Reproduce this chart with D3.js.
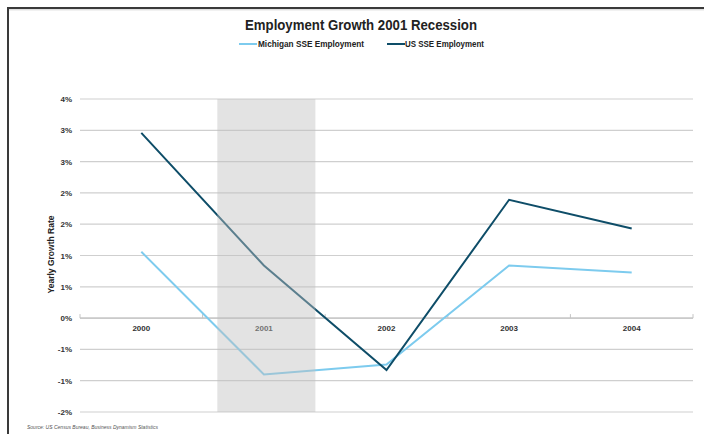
<!DOCTYPE html>
<html>
<head>
<meta charset="utf-8">
<script src="https://cdn.jsdelivr.net/npm/d3@7"></script>
<style>
  html, body { margin: 0; padding: 0; background: #fff; }
  svg { display: block; font-family: "Liberation Sans", Arial, sans-serif; }
</style>
</head>
<body>
<svg id="chart" width="704" height="434"></svg>
<script>
// Yearly growth rate of employment, percent
const years = ["2000", "2001", "2002", "2003", "2004"];
const michigan = [1.06, -0.90, -0.74, 0.84, 0.73];
const us = [2.96, 0.84, -0.83, 1.89, 1.43];
const yTicks = [-1.5, -1.0, -0.5, 0, 0.5, 1.0, 1.5, 2.0, 2.5, 3.0, 3.5];
const recessionYear = "2001";

const seriesList = [
  { name: "Michigan SSE Employment", values: michigan, color: "#7dcbee" },
  { name: "US SSE Employment", values: us, color: "#0e4d68" }
];

const svg = d3.select("#chart");
const W = 704, H = 434;
const m = { left: 80, right: 11, top: 99, bottom: 22 };

// frame
svg.append("path")
  .attr("d", `M8,${H} L8,8 L${W},8`)
  .attr("fill", "none").attr("stroke", "#3a3a3a").attr("stroke-width", 2);
svg.append("line").attr("x1", 9).attr("x2", W).attr("y1", 9.8).attr("y2", 9.8)
  .attr("stroke", "#c8c8c8").attr("stroke-width", 0.8);

const x = d3.scaleBand().domain(years).range([m.left, W - m.right]);
const y = d3.scaleLinear().domain([-1.5, 3.5]).range([H - m.bottom, m.top]);

// gridlines
svg.append("g").selectAll("line").data(yTicks).join("line")
  .attr("x1", m.left).attr("x2", W - m.right)
  .attr("y1", d => y(d)).attr("y2", d => y(d))
  .attr("stroke", "#cfcfcf").attr("stroke-width", 1.2);

// y axis labels (rounded to whole percent)
const yAxis = d3.axisLeft(y).tickValues(yTicks)
  .tickFormat(d => d3.format(".0%")(d / 100).replace("−", "-"))
  .tickSize(0).tickPadding(8);
const gy = svg.append("g").attr("transform", `translate(${m.left},0)`).call(yAxis);
gy.select(".domain").remove();
gy.selectAll("text").attr("font-size", 8).attr("font-weight", "bold").attr("fill", "#333")
  .attr("font-family", "Liberation Sans, Arial, sans-serif");

// zero axis with category ticks
const gx = svg.append("g").attr("transform", `translate(0,${y(0)})`);
gx.append("line").attr("x1", m.left).attr("x2", W - m.right)
  .attr("stroke", "#c4c4c4").attr("stroke-width", 1.2);
gx.selectAll("line.tk").data(d3.range(years.length + 1)).join("line").attr("class", "tk")
  .attr("x1", i => m.left + i * x.step()).attr("x2", i => m.left + i * x.step())
  .attr("y1", 0).attr("y2", -4).attr("stroke", "#c4c4c4");
gx.selectAll("text").data(years).join("text")
  .attr("x", d => x(d) + x.bandwidth() / 2).attr("y", 13)
  .attr("text-anchor", "middle").attr("font-size", 8).attr("font-weight", "bold")
  .attr("fill", "#333").text(d => d);

// lines
const line = d3.line()
  .x((d, i) => x(years[i]) + x.bandwidth() / 2)
  .y(d => y(d));
svg.append("g").selectAll("path").data(seriesList).join("path")
  .attr("d", s => line(s.values))
  .attr("fill", "none").attr("stroke", s => s.color)
  .attr("stroke-width", 2).attr("stroke-linejoin", "miter");

// recession shading, laid over the lines
const shadeX0 = x(recessionYear) + x.bandwidth() * 0.12;
const shadeX1 = x(recessionYear) + x.bandwidth() * 0.92;
svg.append("rect")
  .attr("x", shadeX0).attr("width", shadeX1 - shadeX0)
  .attr("y", y(3.5)).attr("height", y(-1.5) - y(3.5))
  .attr("fill", "#bfbfbf").attr("opacity", 0.44);

// title
svg.append("text").attr("x", 361).attr("y", 30).attr("text-anchor", "middle")
  .attr("font-size", 15).attr("font-weight", "bold").attr("fill", "#222")
  .attr("textLength", 232).attr("lengthAdjust", "spacingAndGlyphs")
  .text("Employment Growth 2001 Recession");

// legend
const legendItems = [
  { s: seriesList[0], x0: 239, tx: 258, tw: 106 },
  { s: seriesList[1], x0: 387, tx: 405, tw: 79 }
];
const lg = svg.append("g");
legendItems.forEach(it => {
  lg.append("line").attr("x1", it.x0).attr("x2", it.x0 + 18).attr("y1", 44).attr("y2", 44)
    .attr("stroke", it.s.color).attr("stroke-width", 2);
  lg.append("text").attr("x", it.tx).attr("y", 47).attr("font-size", 8.5)
    .attr("font-weight", "bold").attr("fill", "#222")
    .attr("textLength", it.tw).attr("lengthAdjust", "spacingAndGlyphs")
    .text(it.s.name);
});

// y axis title
svg.append("text").attr("transform", `translate(54,${(y(3.5) + y(-1.5)) / 2 - 1}) rotate(-90)`)
  .attr("text-anchor", "middle").attr("font-size", 8.5).attr("font-weight", "bold")
  .attr("fill", "#222").text("Yearly Growth Rate");

// source note
svg.append("text").attr("x", 27).attr("y", 429).attr("font-size", 5)
  .attr("font-style", "italic").attr("fill", "#555")
  .attr("font-family", "Liberation Sans, Arial, sans-serif")
  .text("Source: US Census Bureau, Business Dynamism Statistics");
</script>
</body>
</html>
